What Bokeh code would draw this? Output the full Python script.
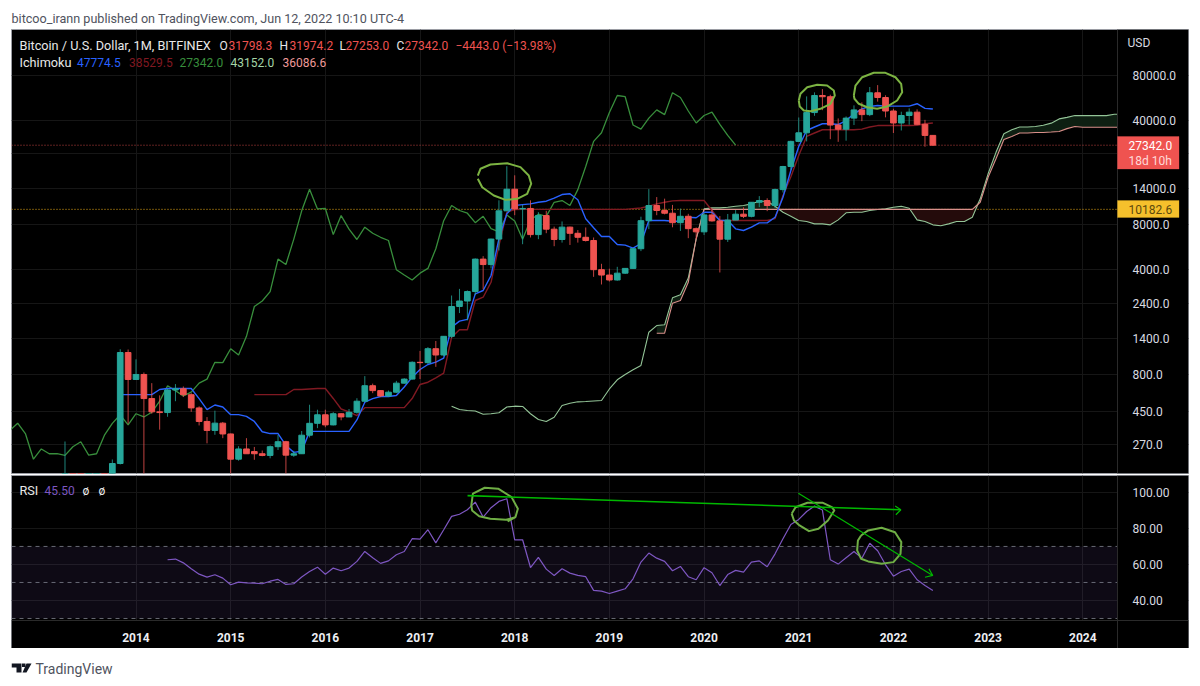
from bokeh.plotting import figure
from bokeh.layouts import column
from bokeh.models import (Range1d, FixedTicker, NumeralTickFormatter, Span, BoxAnnotation,
                          Label, PolyAnnotation)
from bokeh.embed import file_html
from bokeh.resources import INLINE
import numpy as np

# Monthly candles, first bar is 2013-04; bar index 0 is 2014-01
first_bar = -9
opens = [93,139,129,97,106,140,127,203,1122,741,800,552,450,445,630,642,586,478,388,338,378,320,217,254,244,236,230,263,284,231,236,314,377,430,368,437,416,447,530,673,624,575,609,700,745,965,960,1190,1080,1440,2280,2480,2870,4730,4350,6440,9950,13880,10250,10320,6900,9250,7500,6400,7740,7040,6620,6300,4020,3700,3430,3810,4100,5550,8550,10800,10000,9590,8290,9150,7560,7200,9340,8520,6430,8630,9450,9140,11350,11660,10800,13800,19700,29000,33100,45200,58800,57700,37300,35000,41500,47100,43800,61300,57000,46300,38500,43200,45500,37700,31798.3]
highs = [285,147,130,110,140,146,216,1180,1175,1010,825,700,580,640,690,665,600,490,415,458,385,322,265,300,262,248,268,315,288,247,335,502,465,465,448,440,470,555,780,695,625,625,725,755,980,1150,1220,1340,1445,2700,2990,2920,4780,4950,6480,11700,19800,17200,10900,11700,9750,9950,7800,8450,7800,7400,7700,6600,4400,4080,4200,4120,5570,9090,13900,12300,12000,10900,10300,9500,7700,9700,10400,9180,9480,10070,10500,11400,12480,12070,14000,19900,29300,41900,58000,61700,64900,59500,41300,42600,50500,52900,67000,69000,59000,47900,45800,48200,47500,40400,31974.2]
lows = [50,85,88,65,102,119,119,200,375,735,102,437,342,417,530,565,450,365,277,316,300,152,212,240,215,227,220,250,162,225,235,303,350,355,365,395,415,438,525,600,565,565,600,695,740,745,940,900,1060,1400,2060,1840,2720,2970,4100,5400,9950,9300,5950,6600,6430,7050,5770,6100,5880,6100,6200,3600,3200,3350,3390,3760,4060,5350,7500,9300,9420,7720,7300,6530,6430,6850,8420,3850,6160,8620,8900,9000,10530,9900,10400,13200,18700,28800,29000,43000,46900,30000,28800,29300,37300,39600,42800,53500,42000,33000,34300,37500,37500,26700,27253]
closes = [139,129,97,106,140,127,203,1122,741,800,552,450,445,630,642,586,478,388,338,378,320,217,254,236,236,230,263,284,231,236,314,377,430,368,437,416,447,530,673,624,575,609,700,745,965,960,1190,1080,1440,2280,2480,2870,4730,4350,6440,9950,13880,10250,10320,6900,9250,7500,6400,7740,7040,6620,6300,4020,3700,3430,3810,4100,5550,8550,10800,10000,9590,8290,9150,7560,7200,9340,8520,6430,8630,9450,9140,11350,11660,10800,13800,19700,29000,33100,45200,58800,57700,37300,35000,41500,47100,43800,61300,57000,46300,38500,43200,45500,37700,31798.3,27342]

# Ichimoku series, each with the bar index of its first point
tenkan_start = -2
tenkan = [587,587,587,587,587,635,645,645,645,645,552,466,500,485,431,431,420,388,331,322,322,268,241,245,333,333,333,333,333,333,397,522,552,570,570,579,660,768,864,933,968,1030,1655,1820,1868,2770,2917,3675,6470,9500,10800,10950,11080,11360,11540,12090,12790,12950,11790,8800,7670,6700,6700,5925,5870,5600,6016,8570,8570,8570,8480,8480,9020,8940,9740,9740,8570,8570,7540,7350,7730,8270,8270,9020,12270,18500,26800,34300,36200,38050,38050,37600,40000,44350,47900,49600,50400,49900,49900,49900,49900,51800,48200,47774.5]
kijun_start = 15
kijun = [587,587,587,587,587,635,635,640,645,645,553,470,450,425,480,480,480,480,480,480,552,686,710,760,816,1420,1592,1592,2500,2630,3310,5830,9740,10150,10182,10182,10182,10182,10182,10182,10182,10182,10182,10182,10182,10182,10182,10182,10300,10400,10700,11080,11360,11600,11670,11670,11670,11670,10000,8570,8570,8570,8570,8570,8570,8570,8830,12600,16800,23300,31300,33000,34700,34700,34700,34700,34700,35000,36200,37000,37000,37000,37000,37000,37200,38050,38529.5]
lagging_start = -16
lagging = [338,378,320,217,254,236,236,230,263,284,231,236,314,377,430,368,437,416,447,530,673,624,575,609,700,745,965,960,1190,1080,1440,2280,2480,2870,4730,4350,6440,9950,13880,10250,10320,6900,9250,7500,6400,7740,7040,6620,6300,4020,3700,3430,3810,4100,5550,8550,10800,10000,9590,8290,9150,7560,7200,9340,8520,6430,8630,9450,9140,11350,11660,10800,13800,19700,29000,33100,45200,58800,57700,37300,35000,41500,47100,43800,61300,57000,46300,38500,43200,45500,37700,31798.3,27342]
span_a_start = 40
span_a = [491,466,459,456,434,437,444,485,491,489,437,400,388,414,496,514,525,528,532,536,640,737,800,860,919,1534,1700,1720,2605,2730,3530,6470,10260,10420,10420,10510,10680,10800,11080,11540,11540,10680,9740,9160,8570,8440,8140,8140,8020,8660,9650,9740,9740,10000,10150,10260,10510,10680,10360,8660,8440,8020,7900,8140,8440,8440,9020,11970,17600,24500,32600,34700,36200,36200,36500,37200,38400,41000,42000,43200,43150,43150,43150,43150,44000,44000,43152]
span_b_start = 66
span_b = [1511,1511,2400,2500,3310,6470,10182.6,10182.6,10182.6,10182.6,10182.6,10182.6,10182.6,10182.6,10182.6,10182.6,10182.6,10182.6,10182.6,10182.6,10182.6,10182.6,10182.6,10182.6,10182.6,10182.6,10182.6,10182.6,10182.6,10182.6,10182.6,10182.6,10182.6,10182.6,10182.6,10182.6,10182.6,10182.6,10182.6,10182.6,10182.6,11360,16700,22170,29840,31280,33000,33000,33250,33250,33500,33800,35300,36500,36086.6,36086.6,36086.6,36086.6,36086.6,36086.6,36086.6]
rsi_start = 4
rsi = [62.6,63.0,60.9,57.6,54.6,53,54.3,52.4,48.7,50.2,49.8,49.6,49.3,50.7,51.7,48.9,49.3,53,56.1,58.5,54.6,58,56.5,58,61.7,67.2,63.7,60.6,62,65.4,67.2,74.3,74.1,79.3,72,79.3,86.7,87.9,90.4,94.6,86.3,91.5,95,96.5,73.7,73.7,58.3,63.9,57.4,53.9,57.6,55.2,53.9,53.2,45.6,45.2,43.9,45.2,46.5,52,61.3,66.3,63.5,61.7,56.5,58.9,53.2,51.5,58.2,55.4,48.3,54.4,56.7,55.7,61.3,62,58.7,65.9,74.3,82.2,85,89.4,92.4,90.2,62.6,60.2,63.7,67.2,63.5,71.8,67.6,59.8,53.5,56.1,57.4,51.5,48.3,45.5]

# Hand-drawn marks on the chart, in (bar index, price) and (bar index, RSI)
circle1_x = [43.32,43.66,44.93,47.05,48.73,49.78,50.09,49.58,48.31,46.83,45.35,43.88,43.32]
circle1_y = [17140,19020,20300,20700,19500,17140,15100,12940,11980,11780,12600,14320,16300]
circle2_x = [84.0,84.22,85.07,86.34,87.6,88.44,88.57,88.02,86.75,85.49,84.64,84.13,84.0]
circle2_y = [54450,60340,66800,69350,68550,63500,58800,51750,47900,46150,46650,49600,54450]
circle3_x = [90.98,91.19,92.04,93.51,94.99,96.26,96.98,97.11,96.47,95.2,93.94,92.67,91.61,91.06,90.98]
circle3_y = [58800,68550,77900,83400,83400,77900,70400,61850,54450,49600,47900,49100,51750,55900,58800]
rsi_circle1_x = [47.1,48.1,48.4,47.6,45.9,44.2,42.7,42.5,42.6,43.5,44.9,46.9,48.1]
rsi_circle1_y = [83.9,86.3,90.9,97.4,102.1,102.6,99.3,92.8,90,86.8,85.4,84.8,86.3]
rsi_circle2_x = [83.1,83.6,85.1,87,88.2,88.5,87.7,86.5,85.3,84.1,83.4,83.1]
rsi_circle2_y = [88.2,91.8,94.3,94.3,91.8,90,84.4,79.8,78.5,81.7,84.4,88.2]
rsi_circle3_x = [91.9,92.8,94.5,96.2,97,96.9,96,94.5,92.8,91.9,91.4,91.5,91.9]
rsi_circle3_y = [76.1,78.9,80.4,77.9,72.4,65.9,61.3,60.4,61.7,63.2,67.8,73.3,76.1]
arrow1_x = [42.02,96.94]
arrow1_y = [98.2,90.4]
arrow1_head_x = [96.22,96.94,96.31]
arrow1_head_y = [92.4,90.4,87.6]
arrow2_x = [83.95,100.98]
arrow2_y = [99.6,53.9]
arrow2_head_x = [100.0,100.98,100.5]
arrow2_head_y = [52.9,53.9,57.6]

year_bars = [0,12,24,36,48,60,72,84,96,108,120]
year_labels = ["2014","2015","2016","2017","2018","2019","2020","2021","2022","2023","2024"]
price_ticks = [270,450,800,1400,2400,4000,8000,14000,24000,40000,80000]
rsi_ticks = [40,60,80,100]
rsi_bands = [30,50,70]
last_close = 27342.0
kijun_level = 10182.6

UP, DOWN = "#26a69a", "#ef5350"
GRID = "#161616"
FONT = "Roboto"
EDGE = "#9a9ca3"
AXIS_BAR = 124.4        # bar position where the price scale begins
RSI_FLOOR = 28.9        # RSI value where the time scale begins
X_RANGE = (-15.78, 133.4)
LEFT = 11

def frame_box(bottom_px, frame_bottom, left_px, right_px, top_px, **kw):
    return BoxAnnotation(left=left_px - LEFT, right=right_px - LEFT, bottom=frame_bottom - bottom_px,
                         top=frame_bottom - top_px, left_units="screen", right_units="screen",
                         bottom_units="screen", top_units="screen", fill_alpha=1, **kw)

def frame_text(fig, frame_bottom, items, left=LEFT):
    for text, px, py, color, size in items:
        fig.add_layout(Label(x=px - left, y=frame_bottom - py, x_units="screen", y_units="screen",
                             text=text, text_color=color, text_font=FONT, text_font_size=size,
                             text_baseline="middle", text_align="left", level="annotation"))

def style_axis(a_):
    a_.major_tick_line_color = None
    a_.minor_tick_line_color = None
    a_.axis_line_color = "#2a2a2a"
    a_.major_label_text_color = "#d8dae0"
    a_.major_label_text_font = FONT
    a_.major_label_text_font_size = "12px"

# ---------- price panel
p = figure(width=1190, height=474, frame_width=1177, frame_height=444,
           output_backend="svg", toolbar_location=None,
           y_axis_type="log", y_axis_location="right",
           x_range=Range1d(*X_RANGE), y_range=Range1d(174.06, 162500),
           background_fill_color="black", border_fill_color="white",
           min_border_left=LEFT, min_border_right=2, min_border_top=29, min_border_bottom=1,
           title="bitcoo_irann published on TradingView.com, Jun 12, 2022 10:10 UTC-4")
p.title.text_color = "#50535e"
p.title.text_font = FONT
p.title.text_font_size = "12.6px"
p.title.text_font_style = "normal"
p.title.standoff = 8
p.outline_line_color = EDGE
p.xaxis.visible = False
ax = p.yaxis[0]
ax.fixed_location = AXIS_BAR
ax.ticker = FixedTicker(ticks=price_ticks, minor_ticks=[])
ax.formatter = NumeralTickFormatter(format="0.0")
style_axis(ax)
ax.major_label_standoff = 9
p.xgrid.ticker = FixedTicker(ticks=year_bars)
p.xgrid.grid_line_color = GRID
p.ygrid.ticker = FixedTicker(ticks=price_ticks)
p.ygrid.grid_line_color = GRID

bar_x = np.arange(len(opens)) + first_bar
o, h, l, c = map(np.array, (opens, highs, lows, closes))
up = c >= o

a_x = np.arange(len(span_a)) + span_a_start
a = np.array(span_a, dtype=float)
b_x = np.arange(len(span_b)) + span_b_start
b = np.array(span_b, dtype=float)
a_on_b = a[span_b_start - span_a_start:]
p.varea(b_x, y1=b, y2=np.maximum(a_on_b, b), fill_color="#0e1f12")
p.varea(b_x, y1=b, y2=np.minimum(a_on_b, b), fill_color="#240b0b")

p.add_layout(Span(location=last_close, dimension="width", line_color="#ef5350", line_alpha=0.8,
                  line_dash=[1, 2], line_width=1, level="underlay"))
p.add_layout(Span(location=kijun_level, dimension="width", line_color="#e6a817",
                  line_dash=[1, 2], line_width=1, level="underlay"))

p.line(np.arange(len(lagging)) + lagging_start, lagging, line_color="#388e3c", line_width=1.3)
p.line(a_x, a, line_color="#93c497", line_width=1.1)
p.line(b_x, b, line_color="#d98f8a", line_width=1.1)
p.line(np.arange(len(kijun)) + kijun_start, kijun, line_color="#801922", line_width=1.4)
p.line(np.arange(len(tenkan)) + tenkan_start, tenkan, line_color="#2962ff", line_width=1.4)

colors = [UP if u else DOWN for u in up]
p.segment(bar_x, h, bar_x, l, line_color=colors, line_width=1, line_alpha=0.8)
p.vbar(bar_x, width=0.72, top=np.maximum(o, c), bottom=np.minimum(o, c),
       fill_color=colors, line_color=colors, line_width=1)

for cx, cy in ((circle1_x, circle1_y), (circle2_x, circle2_y), (circle3_x, circle3_y)):
    p.line(cx, cy, line_color="#7cb342", line_width=2, line_join="round")

# price scale strip: covers marks that run past the scale edge
p.add_layout(BoxAnnotation(left=AXIS_BAR, fill_color="black", fill_alpha=1, line_color=None, level="glyph"))
p.add_layout(frame_box(168.5, 473, 1117, 1178.5, 136, fill_color="#ef5350", line_color="#ef5350", level="annotation"))
p.add_layout(frame_box(217, 473, 1117, 1178.5, 200, fill_color="#f5c02c", line_color="#e0ae20", level="annotation"))
frame_text(p, 473, [
    ("Bitcoin / U.S. Dollar, 1M, BITFINEX", 19, 45, "#e8e8e8", "12.7px"),
    ("O", 219, 45, "#e8e8e8", "12px"), ("31798.3", 228, 45, "#ef5350", "12px"),
    ("H", 279, 45, "#e8e8e8", "12px"), ("31974.2", 289, 45, "#ef5350", "12px"),
    ("L", 339, 45, "#e8e8e8", "12px"), ("27253.0", 345, 45, "#ef5350", "12px"),
    ("C", 396, 45, "#e8e8e8", "12px"), ("27342.0", 404, 45, "#ef5350", "12px"),
    ("\u22124443.0 (\u221213.98%)", 455, 45, "#ef5350", "12px"),
    ("Ichimoku", 19, 62, "#e8e8e8", "12.7px"),
    ("47774.5", 76.5, 62, "#2962ff", "12px"), ("38529.5", 128.6, 62, "#801922", "12px"),
    ("27342.0", 179, 62, "#388e3c", "12px"), ("43152.0", 230, 62, "#a5d6a7", "12px"),
    ("36086.6", 282, 62, "#ef9a9a", "12px"),
    ("USD", 1127, 42, "#d8dae0", "12px"),
    ("27342.0", 1128, 145, "#ffffff", "12px"), ("18d 10h", 1128, 160, "#ffd9d8", "12px"),
    ("10182.6", 1128, 209, "#5d4a0c", "12px"),
])

# ---------- RSI panel
r = figure(width=1190, height=174, frame_width=1177, frame_height=173,
           output_backend="svg", toolbar_location=None,
           y_axis_location="right", x_range=Range1d(*X_RANGE), y_range=Range1d(13.33, 109.4),
           background_fill_color="black", border_fill_color="white",
           min_border_left=LEFT, min_border_right=2, min_border_top=1, min_border_bottom=0)
r.outline_line_color = EDGE
ay = r.yaxis[0]
ay.fixed_location = AXIS_BAR
ay.ticker = FixedTicker(ticks=rsi_ticks, minor_ticks=[])
ay.formatter = NumeralTickFormatter(format="0.00")
ax2 = r.xaxis[0]
ax2.fixed_location = RSI_FLOOR
ax2.ticker = FixedTicker(ticks=year_bars, minor_ticks=[])
ax2.major_label_overrides = dict(zip(year_bars, year_labels))
style_axis(ay)
style_axis(ax2)
ay.major_label_standoff = 9
ax2.major_label_standoff = 7
ax2.major_label_text_font_style = "bold"
ax2.major_label_text_color = "#eceef2"
r.xgrid.ticker = FixedTicker(ticks=year_bars)
r.ygrid.ticker = FixedTicker(ticks=rsi_ticks)
r.xgrid.grid_line_color = GRID
r.ygrid.grid_line_color = GRID
r.add_layout(BoxAnnotation(bottom=min(rsi_bands), top=max(rsi_bands), fill_color="#7e57c2", fill_alpha=0.11,
                           line_color=None, level="underlay"))
for lv in rsi_bands:
    r.add_layout(Span(location=lv, dimension="width", line_color="#787b86", line_alpha=0.85,
                      line_dash=[4, 4], line_width=1, level="underlay"))
r.line(np.arange(len(rsi)) + rsi_start, rsi, line_color="#7e57c2", line_width=1.2)
for cx, cy in ((rsi_circle1_x, rsi_circle1_y), (rsi_circle2_x, rsi_circle2_y), (rsi_circle3_x, rsi_circle3_y)):
    r.line(cx, cy, line_color="#6fae45", line_width=2, line_join="round")
r.line(arrow1_x, arrow1_y, line_color="#00b800", line_width=1.6)
r.line(arrow1_head_x, arrow1_head_y, line_color="#00b800", line_width=1.2)
r.line(arrow2_x, arrow2_y, line_color="#00b800", line_width=1.2)
r.line(arrow2_head_x, arrow2_head_y, line_color="#00b800", line_width=1.2)
# scale strips
r.add_layout(BoxAnnotation(left=AXIS_BAR, fill_color="black", fill_alpha=1, line_color=None, level="glyph"))
r.add_layout(BoxAnnotation(top=RSI_FLOOR, fill_color="black", fill_alpha=1, line_color=None, level="glyph"))
frame_text(r, 648, [
    ("RSI", 19, 490, "#e8e8e8", "12.7px"), ("45.50", 44, 490, "#7e57c2", "12px"),
    ("\u00f8", 82, 490, "#e8e8e8", "12px"), ("\u00f8", 98, 490, "#e8e8e8", "12px"),
])

# ---------- footer with the TradingView mark (its frame lines up with the panels above)
f = figure(width=200, height=32, frame_width=200, frame_height=32, output_backend="svg", toolbar_location=None,
           x_axis_location=None, y_axis_location=None, x_range=Range1d(0, 200), y_range=Range1d(0, 32),
           background_fill_color="white", border_fill_color="white",
           min_border_left=0, min_border_right=0, min_border_top=0, min_border_bottom=0)
f.outline_line_color = None
f.grid.visible = False
frame_text(f, 680, [("TradingView", 35, 668, "#50535e", "14px")])
for xs, ys in (([11, 21, 21, 16, 16, 11], [663, 663, 672, 672, 667, 667]),
               ([21.5, 25, 25, 21.5], [663, 663, 666.5, 666.5]),
               ([26, 31, 26, 22], [663, 663, 672, 672])):
    f.add_layout(PolyAnnotation(xs=[v - LEFT for v in xs], ys=[680 - v for v in ys], xs_units="screen", ys_units="screen",
                                fill_color="#131722", fill_alpha=1, line_color=None, level="annotation"))

open("out.html", "w").write(file_html(column(p, r, f, spacing=0), INLINE))
